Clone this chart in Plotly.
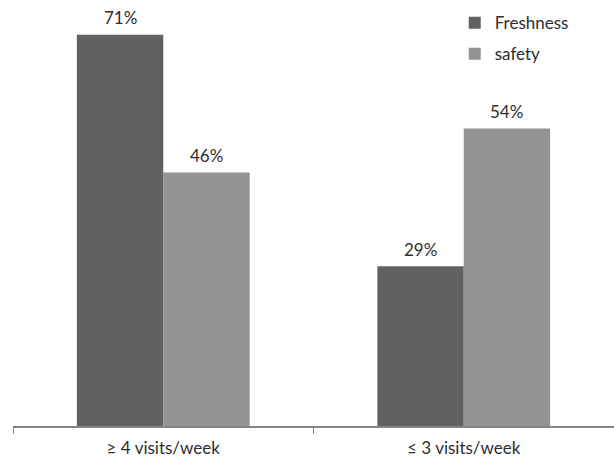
import plotly.graph_objects as go

categories = ["≥ 4 visits/week", "≤ 3 visits/week"]
freshness = [71, 29]
safety = [46, 54]
series_names = ["Freshness", "safety"]
colors = ["#616163", "#939396"]

FONT = "Lato"
TXT = "#2e2e2e"
FS = 17

fig = go.Figure()
for name, vals, col in zip(series_names, [freshness, safety], colors):
    fig.add_trace(go.Bar(
        x=categories, y=vals, name=name, marker=dict(color=col, line=dict(width=0)),
        legendgroup=name,
    ))

bar_w = 0.2875
for s, vals in enumerate([freshness, safety]):
    off = (s - 0.5) * bar_w
    for i, v in enumerate(vals):
        fig.add_annotation(x=i + off, y=v, xref="x", yref="y", text=f"{v}%",
                           showarrow=False, yanchor="middle", yshift=17,
                           font=dict(family=FONT, size=FS, color=TXT))

fig.update_layout(
    width=614, height=457,
    margin=dict(l=13, r=0, t=0, b=31),
    paper_bgcolor="white", plot_bgcolor="white",
    barmode="group", bargap=0.425, bargroupgap=0,
    font=dict(family=FONT, size=FS, color=TXT),
    showlegend=True,
    legend=dict(x=0.735, y=0.988, xanchor="left", yanchor="top",
                font=dict(family=FONT, size=FS, color=TXT),
                itemwidth=30, traceorder="grouped", tracegroupgap=6,
                bgcolor="rgba(0,0,0,0)"),
    xaxis=dict(showline=True, linecolor="#858585", linewidth=1.5,
               ticks="outside", tickson="boundaries", ticklen=6,
               tickcolor="#858585", tickwidth=1, showgrid=False,
               ticklabelstandoff=6, automargin=False,
               tickfont=dict(family=FONT, size=FS, color=TXT)),
    yaxis=dict(range=[0, 77.3], showticklabels=False, showgrid=False,
               zeroline=False, showline=False, ticks="", automargin=False),
)
fig.write_html("out.html")
